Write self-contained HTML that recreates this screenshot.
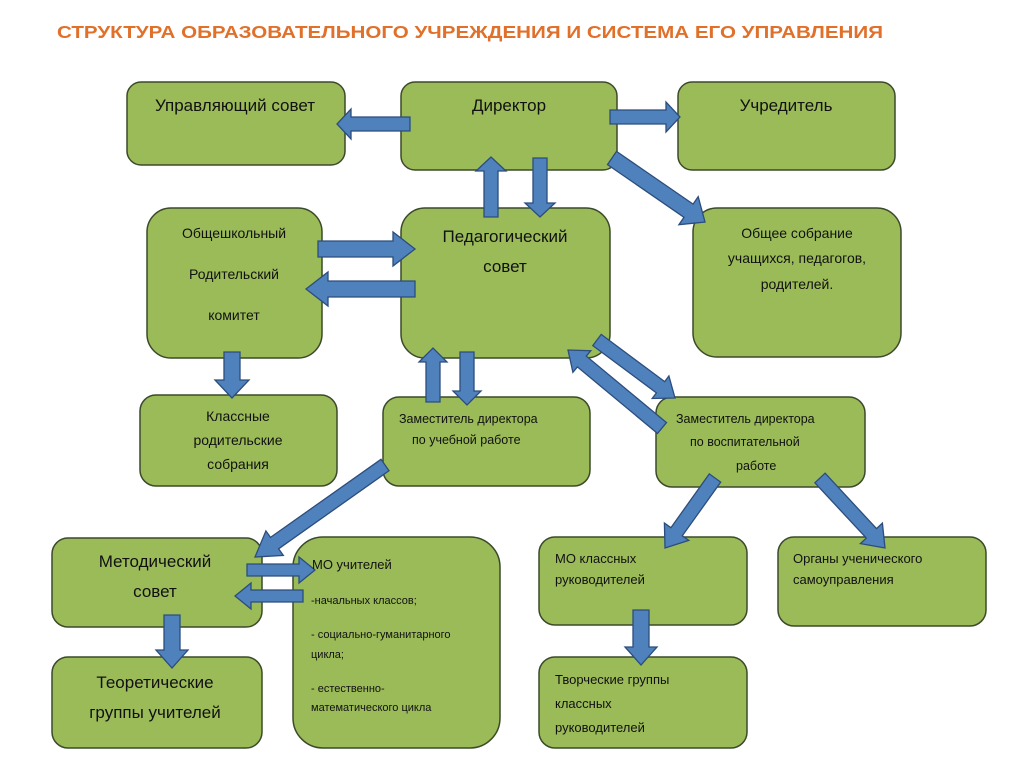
<!DOCTYPE html>
<html><head><meta charset="utf-8"><style>
html,body{margin:0;padding:0;background:#fff;}
svg text{font-family:"Liberation Sans",sans-serif;fill:#111;}
</style></head><body>
<svg id="s" width="1024" height="759" viewBox="0 0 1024 759" xmlns="http://www.w3.org/2000/svg">
<text x="470" y="38" text-anchor="middle" style="font-size:17.5px;font-weight:bold;fill:#e0702a" textLength="826" lengthAdjust="spacingAndGlyphs">СТРУКТУРА ОБРАЗОВАТЕЛЬНОГО УЧРЕЖДЕНИЯ И СИСТЕМА ЕГО УПРАВЛЕНИЯ</text>
<g fill="#9bbb59" stroke="#3b4a2a" stroke-width="1.5">
<rect x="127" y="82" width="218" height="83" rx="14"/>
<rect x="401" y="82" width="216" height="88" rx="14"/>
<rect x="678" y="82" width="217" height="88" rx="14"/>
<rect x="147" y="208" width="175" height="150" rx="24"/>
<rect x="401" y="208" width="209" height="150" rx="24"/>
<rect x="693" y="208" width="208" height="149" rx="24"/>
<rect x="140" y="395" width="197" height="91" rx="16"/>
<rect x="383" y="397" width="207" height="89" rx="16"/>
<rect x="656" y="397" width="209" height="90" rx="16"/>
<rect x="52" y="538" width="210" height="89" rx="16"/>
<rect x="293" y="537" width="207" height="211" rx="30"/>
<rect x="539" y="537" width="208" height="88" rx="16"/>
<rect x="778" y="537" width="208" height="89" rx="16"/>
<rect x="52" y="657" width="210" height="91" rx="16"/>
<rect x="539" y="657" width="208" height="91" rx="16"/>
</g>
<g id="arr" fill="#4f81bd" stroke="#2c4d7c" stroke-width="1.3"></g>
<g style="font-size:17px" text-anchor="middle">
<text x="235" y="111">Управляющий совет</text>
<text x="509" y="111">Директор</text>
<text x="786" y="111">Учредитель</text>
<text x="505" y="242">Педагогический</text>
<text x="505" y="272">совет</text>
<text x="155" y="567">Методический</text>
<text x="155" y="597">совет</text>
<text x="155" y="688">Теоретические</text>
<text x="155" y="718">группы учителей</text>
</g>
<g style="font-size:14px" text-anchor="middle">
<text x="234" y="238">Общешкольный</text>
<text x="234" y="279">Родительский</text>
<text x="234" y="320">комитет</text>
<text x="797" y="238">Общее собрание</text>
<text x="797" y="263">учащихся, педагогов,</text>
<text x="797" y="289">родителей.</text>
<text x="238" y="421">Классные</text>
<text x="238" y="445">родительские</text>
<text x="238" y="469">собрания</text>
</g>
<g style="font-size:12.5px">
<text x="399" y="423">Заместитель директора</text>
<text x="412" y="444">по учебной работе</text>
<text x="676" y="423">Заместитель директора</text>
<text x="690" y="446">по воспитательной</text>
<text x="736" y="470">работе</text>
<text x="312" y="569" style="font-size:13px">МО учителей</text>
<text x="311" y="604" style="font-size:11px">-начальных классов;</text>
<text x="311" y="638" style="font-size:11px">- социально-гуманитарного</text>
<text x="311" y="658" style="font-size:11px">цикла;</text>
<text x="311" y="692" style="font-size:11px">- естественно-</text>
<text x="311" y="711" style="font-size:11px">математического цикла</text>
<text x="555" y="563" style="font-size:13px">МО классных</text>
<text x="555" y="584" style="font-size:13px">руководителей</text>
<text x="793" y="563" style="font-size:13px">Органы ученического</text>
<text x="793" y="584" style="font-size:13px">самоуправления</text>
<text x="555" y="684" style="font-size:13px">Творческие группы</text>
<text x="555" y="708" style="font-size:13px">классных</text>
<text x="555" y="732" style="font-size:13px">руководителей</text>
</g>
</svg>
<script>
var A=[[410,124,337,124,14,30,14],[610,117,680,117,14,30,14],[491,217,491,157,14,30,14],[540,158,540,217,14,30,14],
[612,158,705,222,16,34,20],[318,249,415,249,16,34,22],[415,289,306,289,16,34,22],[232,352,232,398,16,34,18],
[433,402,433,348,14,28,14],[467,352,467,405,14,28,14],[597,340,675,398,14,28,18],[662,428,568,350,14,28,18],
[385,465,255,557,14,30,24],[247,570,315,570,12,26,16],[303,596,235,596,12,26,16],[172,615,172,668,16,32,18],
[715,478,665,548,14,30,20],[820,478,885,548,14,30,20],[641,610,641,665,16,32,18]];
var g=document.getElementById('arr'),ns='http://www.w3.org/2000/svg';
A.forEach(function(a){var x1=a[0],y1=a[1],x2=a[2],y2=a[3],w=a[4]/2,h=a[5]/2,hl=a[6];
var dx=x2-x1,dy=y2-y1,L=Math.hypot(dx,dy),ux=dx/L,uy=dy/L,px=-uy,py=ux;
var bx=x2-ux*hl,by=y2-uy*hl;
var p=[[x1+px*w,y1+py*w],[bx+px*w,by+py*w],[bx+px*h,by+py*h],[x2,y2],[bx-px*h,by-py*h],[bx-px*w,by-py*w],[x1-px*w,y1-py*w]];
var e=document.createElementNS(ns,'polygon');e.setAttribute('points',p.map(function(q){return q[0].toFixed(1)+','+q[1].toFixed(1)}).join(' '));g.appendChild(e);});
</script>
</body></html>
